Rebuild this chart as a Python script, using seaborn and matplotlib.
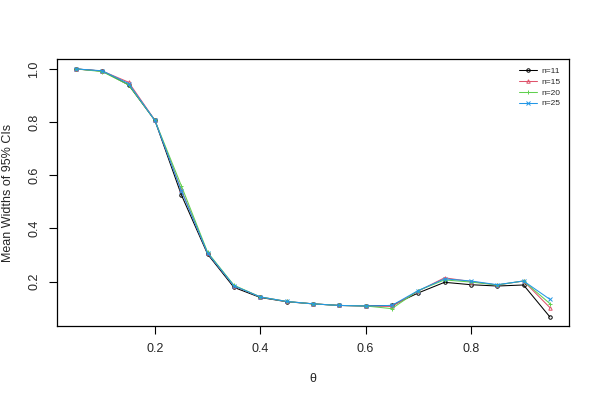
import numpy as np
import pandas as pd
import matplotlib
matplotlib.use('Agg')
import matplotlib.pyplot as plt
import seaborn as sns

theta = [0.05, 0.10, 0.15, 0.20, 0.25, 0.30, 0.35, 0.40, 0.45, 0.50,
         0.55, 0.60, 0.65, 0.70, 0.75, 0.80, 0.85, 0.90, 0.95]

n11 = [1.000, 0.992, 0.940, 0.806, 0.527, 0.303, 0.178, 0.140, 0.124, 0.116,
       0.110, 0.108, 0.110, 0.157, 0.197, 0.188, 0.183, 0.187, 0.067]
n15 = [1.000, 0.992, 0.950, 0.807, 0.545, 0.307, 0.184, 0.142, 0.125, 0.116,
       0.110, 0.108, 0.106, 0.164, 0.214, 0.200, 0.187, 0.202, 0.102]
n20 = [1.000, 0.990, 0.940, 0.806, 0.561, 0.310, 0.186, 0.142, 0.125, 0.116,
       0.110, 0.108, 0.098, 0.166, 0.206, 0.198, 0.187, 0.202, 0.117]
n25 = [1.000, 0.993, 0.945, 0.806, 0.542, 0.307, 0.184, 0.142, 0.125, 0.116,
       0.110, 0.108, 0.110, 0.166, 0.210, 0.202, 0.188, 0.202, 0.133]

labels = ['n=11', 'n=15', 'n=20', 'n=25']
colors = ['black', '#DF536B', '#61D04F', '#2297E6']
markers = ['o', '^', '+', 'x']

sns.set_style('ticks')
plt.rcParams['font.family'] = ['Liberation Sans', 'DejaVu Sans']

fig = plt.figure(figsize=(6, 4), dpi=100)
ax = fig.add_axes([0.095, 0.185, 0.853, 0.6675])

for lab, vals, col, mk in zip(labels, [n11, n15, n20, n25], colors, markers):
    df = pd.DataFrame({'theta': theta, 'w': vals})
    sns.lineplot(data=df, x='theta', y='w', ax=ax, color=col, marker=mk,
                 markersize=3.5 if mk in ('+', 'x') else 2.5, mfc='none', mec=col,
                 mew=0.7, linewidth=0.75, label=lab)

ax.set_xlim(0.014, 0.986)
ax.set_ylim(0.0326, 1.0374)
ax.set_xticks([0.2, 0.4, 0.6, 0.8])
ax.set_yticks([0.2, 0.4, 0.6, 0.8, 1.0])
ax.set_xticklabels(['0.2', '0.4', '0.6', '0.8'])
ax.set_yticklabels(['0.2', '0.4', '0.6', '0.8', '1.0'], rotation=90, va='center')
ax.tick_params(axis='both', length=6, width=0.8, color='black', labelsize=9, pad=6)
for s in ax.spines.values():
    s.set_visible(True)
    s.set_color('black')
    s.set_linewidth(0.9)

ax.set_xlabel('θ', fontsize=9, labelpad=13)
ax.set_ylabel('Mean Widths of 95% CIs', fontsize=9, labelpad=10)

ax.legend(loc='upper right', frameon=False, fontsize=6, handlelength=2.2,
          labelspacing=0.35, borderaxespad=0.6, handletextpad=0.5)

fig.savefig('out.png', dpi=100)
